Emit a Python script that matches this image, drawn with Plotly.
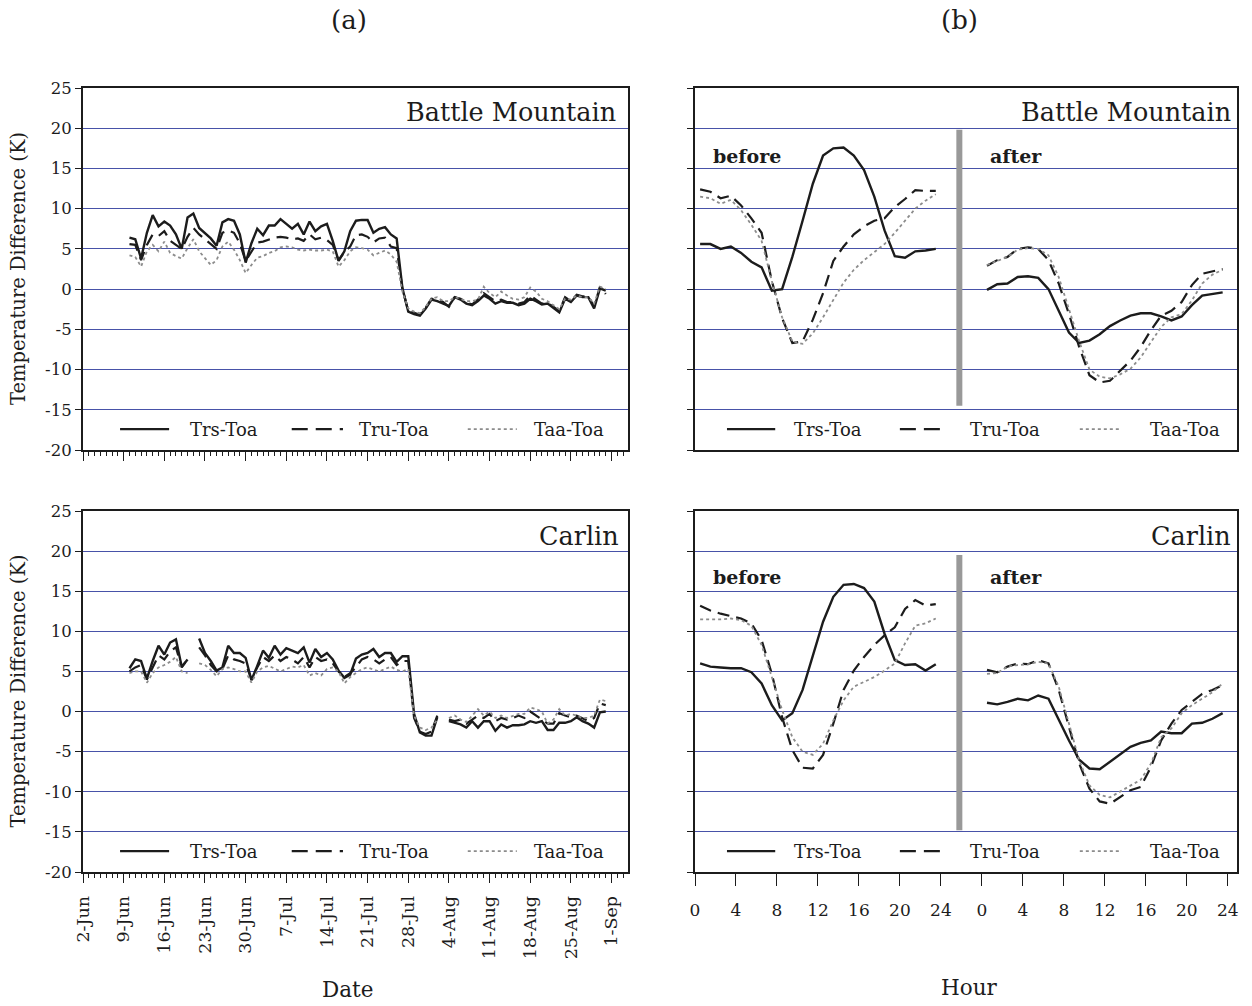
import plotly.graph_objects as go
import pandas as pd

# ---------------- data ----------------
dates = pd.date_range("2001-06-10", "2001-08-31", freq="D")  # daily values
week_ticks = pd.date_range("2001-06-02", "2001-09-01", freq="7D")
week_labels = ["2-Jun", "9-Jun", "16-Jun", "23-Jun", "30-Jun", "7-Jul", "14-Jul",
               "21-Jul", "28-Jul", "4-Aug", "11-Aug", "18-Aug", "25-Aug", "1-Sep"]

bm_trs = [6.4, 6.2, 3.8, 7.0, 9.2, 7.8, 8.4, 7.9, 6.8, 5.0,
          8.9, 9.4, 7.6, 7.0, 6.3, 5.4, 8.3, 8.7, 8.5, 6.8,
          3.3, 5.7, 7.5, 6.7, 7.9, 7.9, 8.7, 8.1, 7.5, 8.1,
          6.8, 8.4, 7.2, 7.8, 8.1, 6.0, 3.5, 4.7, 7.2, 8.5,
          8.6, 8.6, 7.0, 7.5, 7.7, 6.8, 6.3, 0.1, -2.8, -3.1,
          -3.3, -2.4, -1.3, -1.5, -1.8, -2.1, -1.0, -1.3, -1.8, -2.0,
          -1.5, -0.8, -1.2, -1.8, -1.5, -1.7, -1.7, -2.0, -1.8, -1.2,
          -1.5, -1.9, -1.8, -2.4, -2.9, -1.2, -1.6, -0.8, -1.0, -1.0,
          -2.4, 0.1, -0.2]
bm_tru = [5.6, 5.5, 3.6, 5.5, 6.8, 6.6, 7.2, 6.0, 5.5, 5.0,
          6.5, 7.6, 6.8, 6.2, 5.5, 5.0, 7.0, 7.3, 7.0, 5.7,
          3.5, 4.7, 5.8, 5.9, 6.2, 6.4, 6.5, 6.4, 6.2, 6.3,
          6.0, 6.8, 6.2, 6.4, 6.1, 5.5, 3.6, 4.6, 5.3, 6.7,
          6.8, 6.5, 5.8, 6.3, 6.4, 5.3, 5.1, 0.0, -2.7, -3.0,
          -3.2, -2.3, -1.2, -1.3, -1.6, -2.2, -1.0, -1.2, -1.7, -1.9,
          -1.3, -0.5, -1.0, -1.5, -1.3, -1.6, -1.6, -1.8, -1.6, -0.8,
          -1.3, -1.8, -1.7, -2.2, -2.7, -1.0, -1.5, -0.7, -0.9, -0.9,
          -2.2, 0.3, -0.6]
bm_taa = [4.2, 4.0, 2.8, 4.7, 5.5, 4.7, 5.9, 4.5, 4.1, 3.8,
          5.1, 6.2, 4.7, 3.9, 3.0, 3.6, 5.3, 5.9, 4.9, 3.6,
          2.0, 3.0, 3.9, 4.1, 4.5, 4.7, 5.2, 5.3, 5.2, 4.9,
          4.8, 4.9, 4.8, 4.8, 4.9, 4.7, 2.8, 3.6, 4.7, 5.2,
          5.1, 4.9, 4.2, 4.5, 4.8, 4.3, 3.4, -0.3, -2.4, -2.8,
          -3.0, -2.2, -1.2, -1.0, -1.5, -1.5, -1.0, -1.2, -1.5, -1.5,
          -1.3, 0.3, -0.5, -1.0, -0.3, -0.8, -1.2, -1.3, -1.0, 0.2,
          -0.3, -1.2, -1.5, -2.0, -2.5, -1.2, -1.3, -0.8, -1.0, -1.0,
          -1.8, 0.3, 0.0]

ca_trs = [5.4, 6.5, 6.3, 4.1, 6.3, 8.2, 7.1, 8.6, 9.0, 5.6,
          6.5, None, 9.1, 7.3, 6.3, 5.1, 5.5, 8.2, 7.3, 7.3,
          6.7, 3.9, 5.7, 7.6, 6.7, 8.2, 7.1, 7.9, 7.6, 7.3,
          8.0, 6.1, 7.8, 6.8, 7.3, 6.5, 5.1, 4.2, 4.6, 6.6,
          7.1, 7.3, 7.8, 6.8, 7.3, 7.3, 6.2, 6.9, 6.9, -0.3,
          -2.6, -3.0, -3.0, -0.7, None, -1.2, -1.4, -1.6, -2.0, -1.2,
          -2.0, -1.2, -1.2, -2.4, -1.6, -2.0, -1.7, -1.7, -1.6, -1.2,
          -1.4, -1.2, -2.3, -2.3, -1.4, -1.4, -1.2, -0.7, -1.2, -1.5,
          -2.0, -0.1, 0.0]
ca_tru = [5.0, 5.5, 5.8, 4.0, 5.5, 7.0, 6.5, 7.5, 8.0, 5.5,
          6.5, None, 8.0, 7.0, 5.8, 5.0, 5.3, 7.0, 6.5, 6.3,
          6.0, 4.0, 5.5, 6.8, 6.3, 7.0, 6.3, 6.8, 6.5, 6.0,
          6.8, 5.5, 6.8, 6.3, 6.5, 6.0, 5.0, 4.3, 4.8, 5.5,
          6.5, 6.8, 6.5, 6.0, 6.5, 6.8, 5.8, 6.3, 6.3, -0.8,
          -2.5, -2.8, -2.5, -0.5, None, -1.0, -1.2, -1.0, -1.5, -1.0,
          -0.5, -0.8, -0.3, -1.2, -0.8, -1.0, -0.8, -0.5, -0.8, 0.0,
          -0.5, -1.0, -1.5, -1.5, -0.2, -0.5, -0.7, -0.5, -0.8, -1.2,
          -0.8, 1.0, 0.8]
ca_taa = [4.8, 5.0, 5.0, 3.6, 4.8, 5.5, 5.8, 6.2, 6.8, 5.0,
          4.8, None, 6.0, 5.8, 5.2, 4.4, 5.3, 5.5, 5.3, 5.0,
          5.0, 3.6, 5.0, 5.5, 5.7, 5.3, 5.0, 5.3, 5.6, 5.5,
          5.8, 4.5, 4.8, 4.5, 5.3, 5.5, 5.0, 3.5, 4.3, 4.8,
          5.3, 5.5, 5.2, 5.0, 5.3, 5.6, 5.2, 5.0, 5.3, -0.5,
          -2.0, -2.3, -2.0, -1.0, None, -0.8, -0.5, -1.0, -1.3, -0.5,
          0.3, -0.5, 0.0, -0.8, -0.5, -0.8, -0.5, -0.3, -0.3, 0.5,
          0.3, 0.0, -1.5, -1.0, 0.3, -0.5, -0.3, -0.5, -0.8, -0.8,
          -0.5, 1.5, 1.3]

# diurnal composites (hourly), before / after
hours = [h + 0.5 for h in range(24)]
after_offset = 28
hour_ticks = list(range(0, 53, 4))
hour_labels = ["0", "4", "8", "12", "16", "20", "24", "0", "4", "8", "12", "16", "20", "24"]

bm_before_trs = [5.6, 5.6, 5.0, 5.3, 4.5, 3.4, 2.7, -0.2, 0.0, 4.0, 8.5, 13.1,
                 16.6, 17.5, 17.6, 16.6, 14.8, 11.5, 7.3, 4.1, 3.9, 4.7, 4.8, 5.0]
bm_before_tru = [12.4, 12.1, 11.3, 11.6, 10.4, 8.8, 7.0, 1.0, -3.6, -6.7, -6.5, -3.8,
                 -0.5, 3.5, 5.3, 6.8, 7.8, 8.5, 8.8, 10.2, 11.2, 12.3, 12.2, 12.2]
bm_before_taa = [11.5, 11.3, 10.6, 11.1, 9.8, 8.0, 6.0, 1.0, -3.5, -6.5, -6.8, -5.5,
                 -3.5, -1.3, 0.8, 2.4, 3.6, 4.6, 5.6, 7.0, 8.5, 10.0, 11.0, 11.8]
bm_after_trs = [-0.1, 0.6, 0.7, 1.5, 1.6, 1.4, 0.0, -2.6, -5.4, -6.7, -6.4, -5.6,
                -4.6, -3.9, -3.3, -3.0, -3.0, -3.4, -3.9, -3.4, -2.0, -0.8, -0.6, -0.4]
bm_after_tru = [2.9, 3.6, 4.0, 5.0, 5.2, 5.0, 3.6, 0.7, -3.1, -7.2, -10.7, -11.6,
                -11.4, -10.1, -8.9, -7.2, -5.1, -3.3, -2.7, -1.6, 0.5, 1.9, 2.2, 2.5]
bm_after_taa = [3.0, 3.5, 4.0, 4.9, 5.1, 5.0, 4.2, 1.5, -2.5, -6.5, -10.0, -10.9,
                -11.1, -10.6, -9.9, -8.5, -6.6, -4.7, -3.5, -3.1, -1.4, 0.7, 1.8, 2.4]

ca_before_trs = [6.0, 5.6, 5.5, 5.4, 5.4, 4.9, 3.5, 0.8, -1.1, -0.2, 2.7, 6.8,
                 11.2, 14.3, 15.8, 15.9, 15.4, 13.7, 9.7, 6.4, 5.8, 5.9, 5.1, 5.9]
ca_before_tru = [13.2, 12.6, 12.2, 11.9, 11.6, 11.0, 8.9, 4.7, -0.7, -4.8, -7.0, -7.1,
                 -5.4, -1.5, 2.7, 5.1, 6.8, 8.3, 9.5, 10.5, 12.8, 13.9, 13.2, 13.4]
ca_before_taa = [11.5, 11.5, 11.5, 11.6, 11.4, 10.7, 8.3, 4.3, 0.2, -3.2, -5.0, -5.4,
                 -4.0, -1.1, 1.4, 3.1, 3.7, 4.3, 5.1, 6.0, 8.5, 10.7, 11.0, 11.6]
ca_after_trs = [1.1, 0.9, 1.2, 1.6, 1.4, 2.0, 1.6, -1.1, -3.6, -6.0, -7.1, -7.2,
                -6.3, -5.3, -4.4, -3.9, -3.6, -2.5, -2.7, -2.7, -1.5, -1.4, -0.9, -0.2]
ca_after_tru = [5.2, 4.9, 5.6, 6.0, 5.9, 6.4, 6.0, 2.7, -1.9, -6.5, -9.6, -11.2,
                -11.5, -10.6, -9.8, -9.4, -6.9, -3.6, -1.5, 0.2, 1.2, 2.2, 2.7, 3.3]
ca_after_taa = [4.7, 4.8, 5.6, 5.8, 5.9, 6.2, 6.0, 3.1, -1.5, -6.1, -9.2, -10.4,
                -10.7, -10.0, -9.2, -8.5, -6.5, -3.2, -2.1, -0.2, 0.8, 1.6, 2.4, 3.5]

series_names = ["Trs-Toa", "Tru-Toa", "Taa-Toa"]
y_ticks = list(range(-20, 30, 5))
y_labels = [str(v) for v in y_ticks]

# ---------------- styles ----------------
FONT = "DejaVu Serif"
INK = "#1c1c1c"
GRID = "#4852a8"
STYLES = [dict(color=INK, width=2.4),
          dict(color=INK, width=2.2, dash="12px,7px"),
          dict(color="#8c8c8c", width=1.8, dash="dot")]

fig = go.Figure()

def add_set(xs, ys_list, xa, ya):
    for ys, st, nm in zip(ys_list, STYLES, series_names):
        fig.add_trace(go.Scatter(x=xs, y=ys, mode="lines", line=st, name=nm,
                                 xaxis=xa, yaxis=ya, showlegend=False,
                                 connectgaps=False, hoverinfo="skip"))

after_hours = [h + after_offset for h in hours]
add_set(dates, [bm_trs, bm_tru, bm_taa], "x", "y")
add_set(hours, [bm_before_trs, bm_before_tru, bm_before_taa], "x2", "y2")
add_set(after_hours, [bm_after_trs, bm_after_tru, bm_after_taa], "x2", "y2")
add_set(dates, [ca_trs, ca_tru, ca_taa], "x3", "y3")
add_set(hours, [ca_before_trs, ca_before_tru, ca_before_taa], "x4", "y4")
add_set(after_hours, [ca_after_trs, ca_after_tru, ca_after_taa], "x4", "y4")

# ---------------- axes ----------------
W, H = 1252, 1006
def dom_x(a, b):
    return [a / W, b / W]
def dom_y(top, bottom):
    return [1 - bottom / H, 1 - top / H]

LX = dom_x(83, 628)
RX = dom_x(695, 1237)
TY = dom_y(88, 450)
BY = dom_y(511, 872)

def yaxis(domain, anchor, labels):
    return dict(domain=domain, anchor=anchor, range=[-20, 25], tickvals=y_ticks,
                ticktext=y_labels, showticklabels=labels, ticks="outside", ticklen=6,
                tickcolor=INK, tickwidth=1.2, showgrid=True, gridcolor=GRID, gridwidth=1,
                zeroline=False, showline=True, mirror=True, linecolor=INK, linewidth=2,
                tickfont=dict(family=FONT, size=16.5, color=INK), automargin=False)

def date_axis(domain, anchor, labels):
    return dict(domain=domain, anchor=anchor, type="date",
                range=["2001-06-02", "2001-09-03 20:00"],
                tickvals=list(week_ticks), ticktext=week_labels, showticklabels=labels,
                tickangle=-90, ticks="outside", ticklen=9, tickcolor=INK, tickwidth=1.2,
                ticklabelstandoff=6,
                minor=dict(ticks="outside", ticklen=4, dtick=86400000, tick0="2001-06-02",
                           tickcolor=INK, tickwidth=1),
                showgrid=False, zeroline=False, showline=True, mirror=True,
                linecolor=INK, linewidth=2,
                tickfont=dict(family=FONT, size=17.5, color=INK), automargin=False)

def hour_axis(domain, anchor, labels):
    return dict(domain=domain, anchor=anchor, range=[0, 52.9], tickvals=hour_ticks,
                ticktext=hour_labels, showticklabels=labels,
                ticks="outside" if labels else "", ticklen=12, tickcolor=INK, tickwidth=1.2,
                ticklabelstandoff=10,
                showgrid=False, zeroline=False, showline=True, mirror=True,
                linecolor=INK, linewidth=2,
                tickfont=dict(family=FONT, size=17, color=INK), automargin=False)

fig.update_layout(
    width=W, height=H, margin=dict(l=0, r=0, t=0, b=0),
    paper_bgcolor="white", plot_bgcolor="white", showlegend=False,
    xaxis=date_axis(LX, "y", False), yaxis=yaxis(TY, "x", True),
    xaxis2=hour_axis(RX, "y2", False), yaxis2=yaxis(TY, "x2", False),
    xaxis3=date_axis(LX, "y3", True), yaxis3=yaxis(BY, "x3", True),
    xaxis4=hour_axis(RX, "y4", True), yaxis4=yaxis(BY, "x4", False),
)

# ---------------- annotations & decorations ----------------
ann = []
shapes = []

def txt(text, x, y, xref, yref, size, xanchor="center", yanchor="middle", bold=False, angle=0):
    ann.append(dict(text=f"<b>{text}</b>" if bold else text, x=x, y=y, xref=xref, yref=yref,
                    showarrow=False, xanchor=xanchor, yanchor=yanchor, textangle=angle,
                    font=dict(family=FONT, size=size, color=INK)))

txt("(a)", 349 / W, 1 - 20 / H, "paper", "paper", 26)
txt("(b)", 959 / W, 1 - 20 / H, "paper", "paper", 26)
txt("Date", 347 / W, 1 - 989 / H, "paper", "paper", 21.5)
txt("Hour", 969 / W, 1 - 987 / H, "paper", "paper", 21.5)
for yd in (TY, BY):
    txt("Temperature Difference (K)", 18 / W, (yd[0] + yd[1]) / 2, "paper", "paper", 19.5, angle=-90)

txt("Battle Mountain", 0.982, 22.0, "x domain", "y", 25.5, xanchor="right")
txt("Battle Mountain", 0.993, 22.0, "x2 domain", "y2", 25.5, xanchor="right")
txt("Carlin", 0.988, 21.9, "x3 domain", "y3", 25.5, xanchor="right")
txt("Carlin", 0.993, 21.9, "x4 domain", "y4", 25.5, xanchor="right")

for xa, ya, yv in (("x2", "y2", 16.6), ("x4", "y4", 16.8)):
    txt("before", 1.6, yv, xa, ya, 19, xanchor="left", bold=True)
    txt("after", 28.6, yv, xa, ya, 19, xanchor="left", bold=True)

# gray separator bars between before / after
shapes.append(dict(type="line", xref="x2", yref="y2", x0=25.8, x1=25.8, y0=-14.5, y1=19.8,
                   line=dict(color="#999999", width=6)))
shapes.append(dict(type="line", xref="x4", yref="y4", x0=25.8, x1=25.8, y0=-14.8, y1=19.5,
                   line=dict(color="#999999", width=6)))

# in-panel legends
leg_left = [(0.068, 0.158, 0.259), (0.383, 0.477, 0.570), (0.706, 0.796, 0.892)]
leg_right = [(0.059, 0.148, 0.245), (0.378, 0.461, 0.572), (0.710, 0.784, 0.904)]
for xa, ya, pos in (("x", "y", leg_left), ("x2", "y2", leg_right),
                    ("x3", "y3", leg_left), ("x4", "y4", leg_right)):
    for (a, b, c), st, nm in zip(pos, STYLES, series_names):
        line = dict(color=st["color"], width=st["width"])
        if "dash" in st:
            line["dash"] = "16px,8px" if st["dash"] != "dot" else "dot"
        shapes.append(dict(type="line", xref=f"{xa} domain", yref=ya, x0=a, x1=b,
                           y0=-17.4, y1=-17.4, line=line))
        txt(nm, c, -17.4, f"{xa} domain", ya, 18, )

fig.update_layout(annotations=ann, shapes=shapes)
fig.write_html("out.html")
